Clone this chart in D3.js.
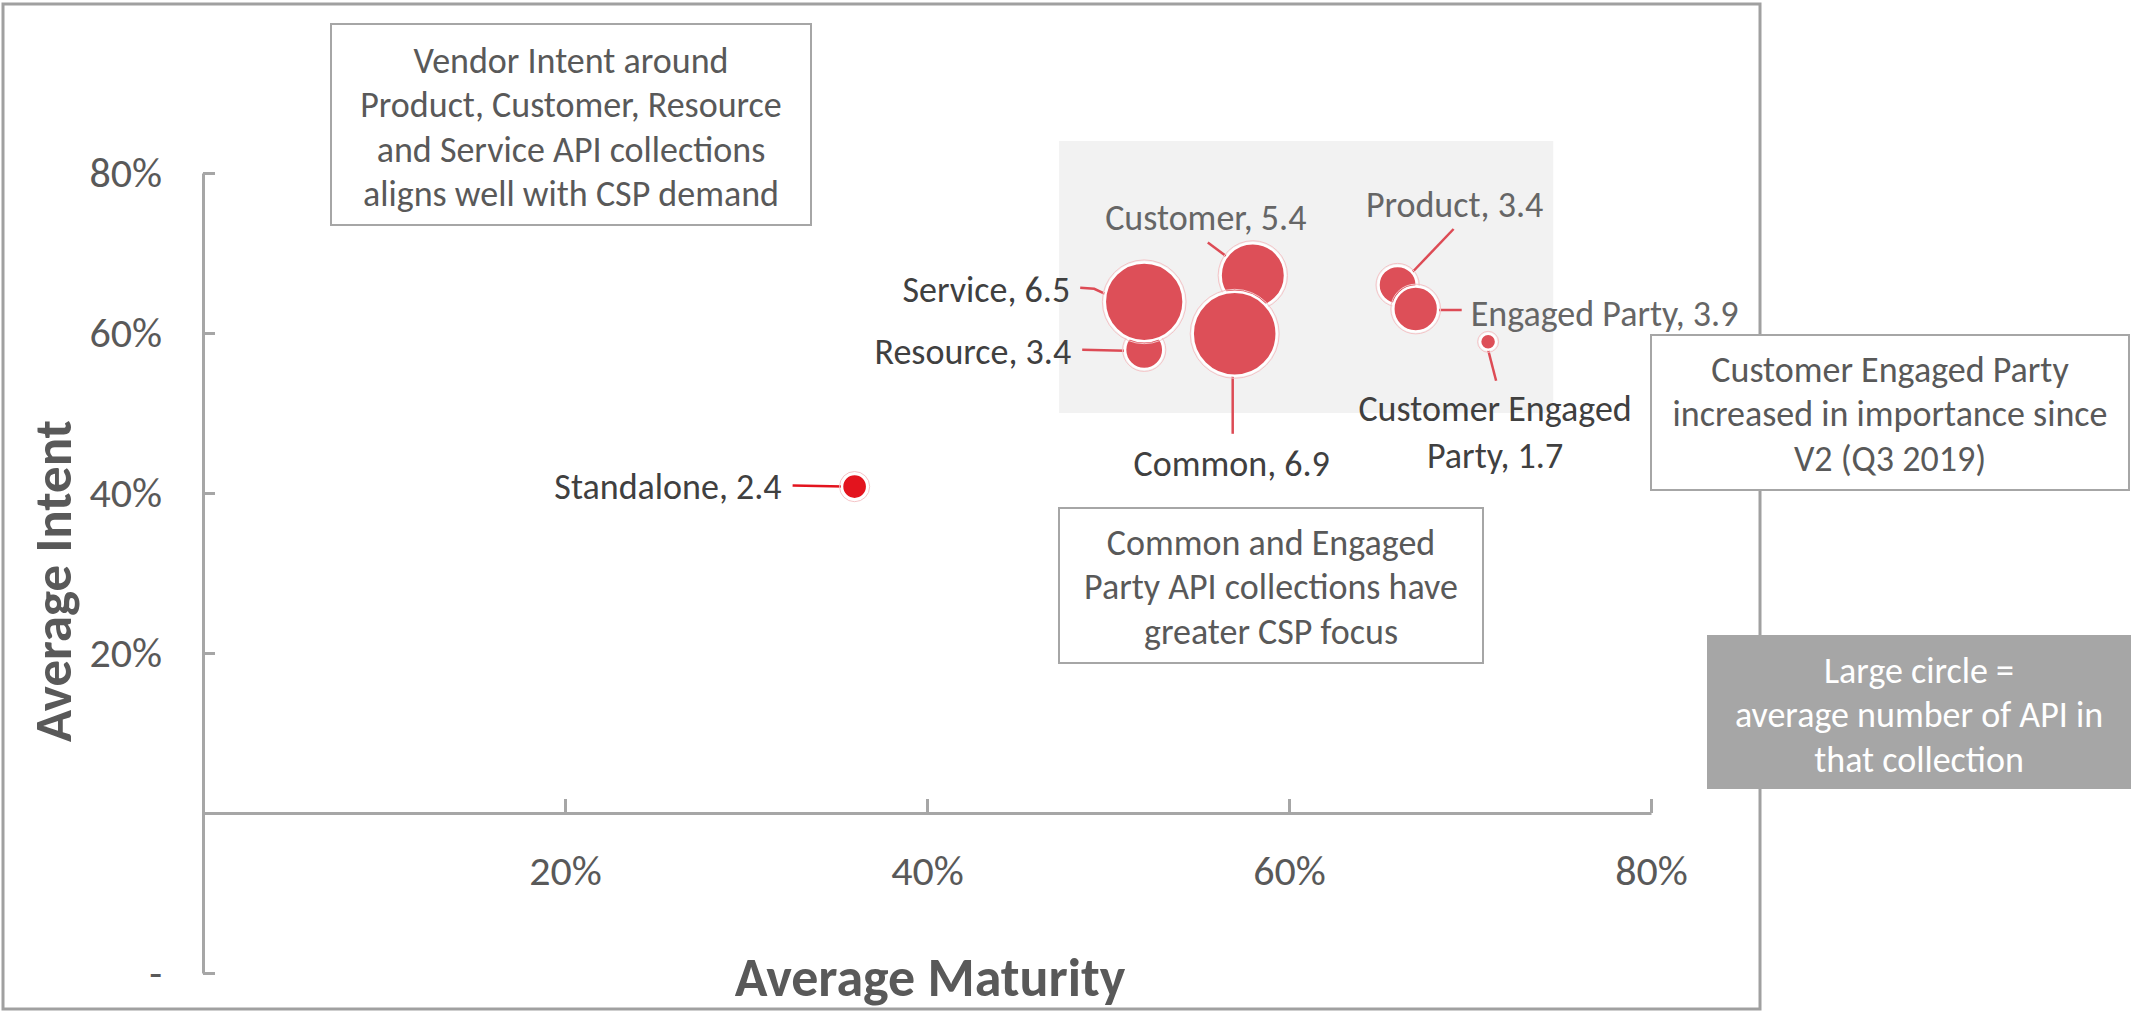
<!DOCTYPE html>
<html>
  <head>
    <meta charset="utf-8">
    <script src="https://cdn.jsdelivr.net/npm/d3@7"></script>
    <style type="text/css">

html, body {
  margin: 0;
  padding: 0;
  background: #fff;
}

svg {
  display: block;
  font-family: Carlito, Lato, sans-serif;
}

.axis path, .axis line {
  stroke: #a6a6a6;
  stroke-width: 3px;
}

.axis text {
  fill: #595959;
  font-size: 42px;
  font-family: Carlito, Lato, sans-serif;
}

.note rect {
  fill: #fff;
  stroke: #a6a6a6;
  stroke-width: 2px;
}

.note text {
  fill: #595959;
  font-size: 36px;
  text-anchor: middle;
}

    </style>
  </head>
  <body>
    <script type="text/javascript">

// API collections
var names = ["Standalone", "Resource", "Service", "Customer", "Common", "Product", "Engaged Party", "Customer Engaged Party"];
var maturity = [0.36, 0.52, 0.52, 0.58, 0.57, 0.66, 0.67, 0.71];
var intent = [0.408, 0.579, 0.639, 0.672, 0.599, 0.66, 0.63, 0.589];
var apiCount = [2.4, 3.4, 6.5, 5.4, 6.9, 3.4, 3.9, 1.7];

// axes
var xTicks = [0.2, 0.4, 0.6, 0.8];
var xTickLabels = ["20%", "40%", "60%", "80%"];
var yTicks = [-0.2, 0, 0.2, 0.4, 0.6, 0.8];
var yTickLabels = ["-", "", "20%", "40%", "60%", "80%"];

// shaded focus area (maturity range, intent range)
var focusMaturity = [0.473, 0.746];
var focusIntent = [0.50, 0.84];

var notes = [
  ["Vendor Intent around", "Product, Customer, Resource", "and Service API collections", "aligns well with CSP demand"],
  ["Common and Engaged", "Party API collections have", "greater CSP focus"],
  ["Customer Engaged Party", "increased in importance since", "V2 (Q3 2019)"],
  ["Large circle =", "average number of API in", "that collection"]
];

var width = 2131, height = 1012;

var svg = d3.select("body").append("svg")
    .attr("width", width)
    .attr("height", height);

var x = d3.scaleLinear().domain([0, 0.8]).range([203, 1651]);
var y = d3.scaleLinear().domain([-0.2, 0.8]).range([973, 173]);
var r = d3.scaleLinear().domain([1.7, 6.9]).range([8, 42]);

// chart frame
svg.append("rect")
    .attr("x", 3).attr("y", 4)
    .attr("width", 1757).attr("height", 1005)
    .attr("fill", "none")
    .attr("stroke", "#a0a0a0")
    .attr("stroke-width", 3);

// shaded area
svg.append("rect")
    .attr("x", x(focusMaturity[0]))
    .attr("y", y(focusIntent[1]))
    .attr("width", x(focusMaturity[1]) - x(focusMaturity[0]))
    .attr("height", y(focusIntent[0]) - y(focusIntent[1]))
    .attr("fill", "#f2f2f2");

// axes
var xAxis = d3.axisBottom(x)
    .tickValues(xTicks)
    .tickFormat(function(d, i) { return xTickLabels[i]; })
    .tickSizeInner(-14)
    .tickSizeOuter(0)
    .tickPadding(42);

svg.append("g")
    .attr("class", "axis")
    .attr("transform", "translate(0," + y(0) + ")")
    .call(xAxis)
    .call(function(g) { g.selectAll("text").attr("fill", "#595959"); });

var yAxis = d3.axisLeft(y)
    .tickValues(yTicks)
    .tickFormat(function(d, i) { return yTickLabels[i]; })
    .tickSizeInner(-12)
    .tickSizeOuter(0)
    .tickPadding(41);

svg.append("g")
    .attr("class", "axis")
    .attr("transform", "translate(" + x(0) + ",0)")
    .call(yAxis)
    .call(function(g) {
      g.selectAll("text").attr("fill", "#595959");
      g.selectAll(".tick").filter(function(d) { return d === 0; }).select("line").remove();
    });

svg.selectAll(".axis .domain").attr("stroke", "#a6a6a6");
svg.selectAll(".axis line").attr("stroke", "#a6a6a6");

// axis titles
svg.append("text")
    .attr("x", 930).attr("y", 996)
    .attr("text-anchor", "middle")
    .attr("font-size", 54)
    .attr("font-weight", "bold")
    .attr("fill", "#595959")
    .text("Average Maturity");

svg.append("text")
    .attr("transform", "translate(71,581) rotate(-90)")
    .attr("text-anchor", "middle")
    .attr("font-size", 53)
    .attr("font-weight", "bold")
    .attr("fill", "#595959")
    .text("Average Intent");

// label placement relative to bubble centre
var labelLayout = {
  "Standalone":             {anchor: "end",    dx: -73, dy: [0],       line: [[-62, -1], [-11, 0]], dark: true},
  "Resource":               {anchor: "end",    dx: -73, dy: [2],       line: [[-62, 0], [-19, 1]], dark: true},
  "Service":                {anchor: "end",    dx: -74, dy: [-12],     line: [[-64, -14], [-50, -13], [-37, -7]], dark: true},
  "Customer":               {anchor: "middle", dx: -47, dy: [-58],     line: [[-45, -33], [-25, -18]], dark: false},
  "Common":                 {anchor: "middle", dx: -3,  dy: [130],     line: [[-2, 42], [-2, 100]], dark: true},
  "Product":                {anchor: "middle", dx: 57,  dy: [-81],     line: [[56, -56], [14, -12]], dark: false},
  "Engaged Party":          {anchor: "start",  dx: 55,  dy: [4],       line: [[22, 1], [46, 1]], dark: false},
  "Customer Engaged Party": {anchor: "middle", dx: 7,   dy: [67, 114], line: [[0, 8], [8, 39]], dark: true}
};

var data = names.map(function(n, i) {
  return {name: n, mx: maturity[i], iy: intent[i], size: apiCount[i]};
});

// leader lines
svg.append("g").selectAll("path")
    .data(data)
  .enter().append("path")
    .attr("fill", "none")
    .attr("stroke", function(d) { return d.name === "Standalone" ? "#e3141e" : "#dd4b55"; })
    .attr("stroke-width", 2.5)
    .attr("d", function(d) {
      var cx = x(d.mx), cy = y(d.iy);
      return d3.line()(labelLayout[d.name].line.map(function(p) { return [cx + p[0], cy + p[1]]; }));
    });

// bubbles
var bubble = svg.append("g").selectAll("g")
    .data(data)
  .enter().append("g")
    .attr("transform", function(d) { return "translate(" + x(d.mx) + "," + y(d.iy) + ")"; });

bubble.append("circle")
    .attr("r", function(d) { return r(d.size) + 2.5; })
    .attr("fill", "none")
    .attr("stroke", "#f5c4c7")
    .attr("stroke-width", 1);

bubble.append("circle")
    .attr("r", function(d) { return r(d.size); })
    .attr("fill", function(d) { return d.name === "Standalone" ? "#e3141e" : "#dd4f58"; })
    .attr("stroke", "#fff")
    .attr("stroke-width", 2.5);

// labels
svg.append("g").selectAll("text")
    .data(data)
  .enter().append("text")
    .attr("font-size", 36)
    .attr("fill", function(d) { return labelLayout[d.name].dark ? "#404040" : "#666"; })
    .attr("text-anchor", function(d) { return labelLayout[d.name].anchor; })
    .each(function(d) {
      var lay = labelLayout[d.name];
      var cx = x(d.mx), cy = y(d.iy);
      var lines = d.name === "Customer Engaged Party"
          ? ["Customer Engaged", "Party, " + d.size]
          : [d.name + ", " + d.size];
      var t = d3.select(this);
      lines.forEach(function(l, j) {
        t.append("tspan")
            .attr("x", cx + lay.dx)
            .attr("y", cy + lay.dy[j])
            .attr("dy", "0.35em")
            .text(l);
      });
    });

// note boxes
var noteBoxes = [
  {x: 331, y: 24, w: 480, h: 201, top: 60, fill: "#fff", stroke: "#a6a6a6", color: "#595959"},
  {x: 1059, y: 508, w: 424, h: 155, top: 542, fill: "#fff", stroke: "#a6a6a6", color: "#595959"},
  {x: 1651, y: 335, w: 478, h: 155, top: 369, fill: "#fff", stroke: "#a6a6a6", color: "#595959"},
  {x: 1707, y: 635, w: 424, h: 154, top: 670, fill: "#a6a6a6", stroke: "none", color: "#fff"}
];

var note = svg.append("g").selectAll("g")
    .data(noteBoxes)
  .enter().append("g")
    .attr("class", "note");

note.append("rect")
    .attr("x", function(d) { return d.x; })
    .attr("y", function(d) { return d.y; })
    .attr("width", function(d) { return d.w; })
    .attr("height", function(d) { return d.h; })
    .style("fill", function(d) { return d.fill; })
    .style("stroke", function(d) { return d.stroke; });

note.append("text")
    .style("fill", function(d) { return d.color; })
    .each(function(d, i) {
      var t = d3.select(this);
      notes[i].forEach(function(l, j) {
        t.append("tspan")
            .attr("x", d.x + d.w / 2)
            .attr("y", d.top + j * 44.5)
            .attr("dy", "0.35em")
            .text(l);
      });
    });

    </script>
  </body>
</html>
